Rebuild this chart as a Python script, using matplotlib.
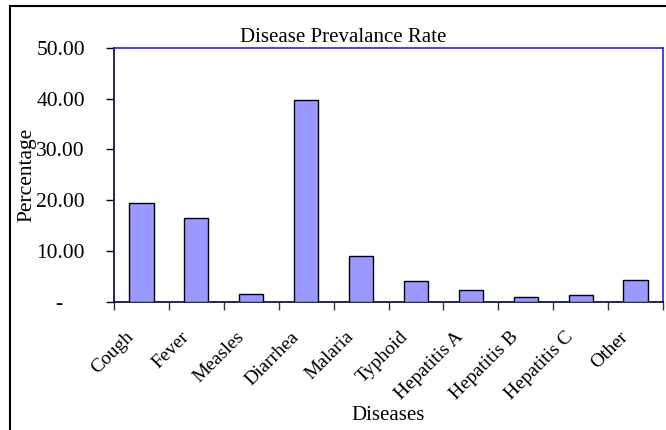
import numpy as np
import matplotlib
matplotlib.use("Agg")
import matplotlib.pyplot as plt
from matplotlib.lines import Line2D
from matplotlib.transforms import ScaledTranslation

# data
diseases = ["Cough", "Fever", "Measles", "Diarrhea", "Malaria", "Typhoid",
            "Hepatitis A", "Hepatitis B", "Hepatitis C", "Other"]
rates = [19.4, 16.6, 1.6, 39.8, 9.1, 4.1, 2.4, 1.0, 1.3, 4.3]
y_ticks = [0, 10, 20, 30, 40, 50]
y_tick_labels = ["-    ", "10.00", "20.00", "30.00", "40.00", "50.00"]

plt.rcParams["font.family"] = ["Liberation Serif", "DejaVu Serif"]

fig = plt.figure(figsize=(6.66, 4.30), dpi=100)
ax = fig.add_axes([114 / 666, 1 - 302 / 430, 549 / 666, 254.3 / 430])

x = np.arange(len(diseases))
ax.bar(x, rates, width=0.44, color="#9999ff", edgecolor="black", linewidth=1.0, zorder=3)

ax.set_xlim(-0.5, len(diseases) - 0.5)
ax.set_ylim(0, 50)

# y axis
ax.set_yticks(y_ticks)
ax.set_yticklabels(y_tick_labels, fontsize=15.5)
ax.tick_params(axis="y", direction="out", length=6, width=1, pad=15, color="#000033")

# x axis: ticks on category boundaries, labels at centres
ax.set_xticks(np.arange(len(diseases) + 1) - 0.5)
ax.set_xticklabels([])
ax.set_xticks(x, minor=True)
ax.set_xticklabels(diseases, minor=True, rotation=45, ha="right", va="top", fontsize=14)
ax.tick_params(axis="x", which="major", direction="out", length=6, width=1, color="#333333")
ax.tick_params(axis="x", which="minor", length=0, pad=19)
shift = ScaledTranslation(-4 / 100, 0, fig.dpi_scale_trans)
for lbl in ax.get_xticklabels(minor=True):
    lbl.set_transform(lbl.get_transform() + shift)

for side in ["left", "bottom"]:
    ax.spines[side].set_color("#000044")
    ax.spines[side].set_linewidth(1.2)
for side in ["top", "right"]:
    ax.spines[side].set_color("#2222ee")
    ax.spines[side].set_linewidth(1.2)

ax.set_ylabel("Percentage", fontsize=15.5, va="center")
ax.yaxis.set_label_coords(-0.158, 0.5)
ax.set_xlabel("Diseases", fontsize=15, va="baseline")
ax.xaxis.set_label_coords(0.5, -0.464)

fig.text(343 / 666, 1 - 41.7 / 430, "Disease Prevalance Rate", fontsize=15,
         ha="center", va="baseline")

# outer chart frame (only left and top edges show in the crop)
fx = 10.5 / 666
fy = 1 - 5.5 / 430
fig.add_artist(Line2D([fx, fx], [0, fy], color="black", linewidth=1.5, transform=fig.transFigure))
fig.add_artist(Line2D([fx, 1], [fy, fy], color="black", linewidth=1.5, transform=fig.transFigure))

fig.savefig("out.png", dpi=100)
